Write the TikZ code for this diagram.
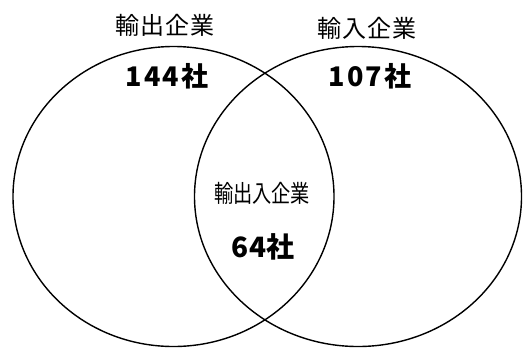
\documentclass[tikz,border=0pt]{standalone}
\usepackage{fontspec}
\setmainfont{Noto Sans CJK JP}
\begin{document}
\begin{tikzpicture}[x=1pt,y=-1pt,
  venn/.style={line width=1.4pt,draw=black},
  title/.style={font=\fontsize{24}{28}\selectfont\addfontfeature{LetterSpace=3},inner sep=0pt},
  count/.style={font=\bfseries\fontsize{27}{31}\selectfont\addfontfeature{LetterSpace=9},inner sep=0pt},
  midtitle/.style={font=\fontsize{24}{28}\selectfont,inner sep=0pt,xscale=0.8},
  midcount/.style={font=\bfseries\fontsize{28}{32}\selectfont,inner sep=0pt}]
\useasboundingbox[fill=white] (0,0) rectangle (529,349);
\draw[venn] (173.5,196.5) ellipse [x radius=160.5, y radius=150];
\draw[venn] (358,196.5) ellipse [x radius=163.5, y radius=150];
\node[title] (exptitle) at (165,25) {輸出企業};
\node[title] (imptitle) at (367,28) {輸入企業};
\node[count] (expcount) at (167,76) {144社};
\node[count] (impcount) at (370,76) {107社};
\node[midtitle] (bothtitle) at (262,193) {輸出入企業};
\node[midcount] (bothcount) at (263,247) {64社};
\end{tikzpicture}
\end{document}
